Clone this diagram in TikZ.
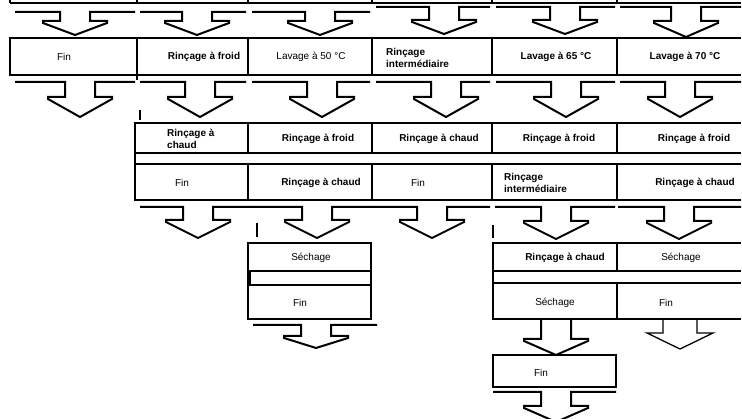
\documentclass[tikz,border=0pt]{standalone}
\usepackage{fontspec}
\setmainfont{Liberation Sans}
\begin{document}
\begin{tikzpicture}[x=1pt, y=-1pt, line join=miter, font=\fontsize{10}{12.5}\selectfont,
	lbl/.style={inner sep=0pt, align=center},
	blbl/.style={lbl, font=\fontsize{10}{12.5}\selectfont\bfseries},
	tbl/.style={line width=2pt},
	thn/.style={line width=1.3pt}]
	\useasboundingbox (0,0) rectangle (742,419);
	% bottom edge of the cut table at the top
	\draw[tbl] (10,3)--(741,3);
	\foreach \x in {10,137,248,372,492,617}{
		\draw[tbl] (\x,0)--(\x,3);
	}
	% block arrows: tip x / top / shaft end / tip y / left end / right end
	\foreach \t/\a/\m/\p/\l/\r in {75/12/21/35/15/135, 197/12/21/35/140/246, 320/12/21/35/252/370,
		444/7/20/34/376/490, 565/7/20/34/496/615, 686/7/21/37/620/741,
		80/82/97/117/15/135, 200/82/97/117/140/246, 322/82/97/117/252/370,
		446/82/97/117/376/490, 566/82/97/117/496/615, 680/82/97/117/620/741,
		198/207/220/238/140/250, 317/207/220/238/250/372, 432/207/220/238/372/490,
		556/207/221/239/495/615, 679/207/221/239/618/741,
		316/325/336/348/253/377, 556/319/339/355/541/571, 556/392/406/422/493/616}{
		\draw[tbl] (\l,\a)--(\t-15,\a)--(\t-15,\m)--(\t-32,\m)--(\t-32,\m+2)--(\t,\p)
			--(\t+32,\m+2)--(\t+32,\m)--(\t+15,\m)--(\t+15,\a)--(\r,\a);
	}
	\draw[thn] (663,319)--(663,333)--(647,333)--(680,349)--(713,333)--(697,333)--(697,319);
	% first row of steps
	\draw[tbl] (741,38)--(10,38)--(10,75)--(741,75);
	\foreach \x in {137,372,492,617}{
		\draw[tbl] (\x,38)--(\x,75);
	}
	\draw[thn] (248,38)--(248,75) (137,75)--(137,80);
	% second row of steps
	\draw[tbl] (741,123)--(135,123)--(135,200)--(741,200) (135,153)--(741,153) (135,164)--(741,164);
	\foreach \x in {248,372,492,617}{
		\draw[tbl] (\x,123)--(\x,153) (\x,164)--(\x,200);
	}
	% lower groups
	\draw[tbl] (248,243) rectangle (371,319) (248,271)--(371,271) (248,285)--(371,285);
	\draw[line width=3.5pt] (249,271)--(249,285);
	\draw[tbl] (741,243)--(493,243)--(493,319)--(741,319) (493,271)--(741,271) (493,283)--(741,283)
		(617,243)--(617,271) (617,283)--(617,319);
	\draw[tbl] (493,355) rectangle (616,387);
	% stray table marks
	\draw[thn] (140,110)--(140,120) (257,223)--(257,237);
	\draw[tbl] (493,225)--(493,238);
	% labels
	\node[lbl] (fin1) at (64,57) {Fin};
	\node[blbl] (froid1) at (204,57) {Rinçage à froid};
	\node[lbl] (lav50) at (311,57) {Lavage à 50 °C};
	\node[blbl, anchor=west, align=left] (inter1) at (386,58) {Rinçage\\intermédiaire};
	\node[blbl] (lav65) at (556,57) {Lavage à 65 °C};
	\node[blbl] (lav70) at (685,57) {Lavage à 70 °C};
	\node[blbl, anchor=west, align=left] (chaud1) at (167,139) {Rinçage à\\chaud};
	\node[blbl] (froid2) at (318,139) {Rinçage à froid};
	\node[blbl] (chaud2) at (439,139) {Rinçage à chaud};
	\node[blbl] (froid3) at (559,139) {Rinçage à froid};
	\node[blbl] (froid4) at (694,139) {Rinçage à froid};
	\node[lbl] (fin2) at (182,183) {Fin};
	\node[blbl] (chaud3) at (321,183) {Rinçage à chaud};
	\node[lbl] (fin3) at (418,183) {Fin};
	\node[blbl, anchor=west, align=left] (inter2) at (504,183) {Rinçage\\intermédiaire};
	\node[blbl] (chaud4) at (695,183) {Rinçage à chaud};
	\node[lbl] (sech1) at (311,258) {Séchage};
	\node[lbl] (fin4) at (300,303) {Fin};
	\node[blbl] (chaud5) at (565,258) {Rinçage à chaud};
	\node[lbl] (sech2) at (681,258) {Séchage};
	\node[lbl] (sech3) at (555,303) {Séchage};
	\node[lbl] (fin5) at (666,303) {Fin};
	\node[lbl] (fin6) at (541,373) {Fin};
\end{tikzpicture}
\end{document}
